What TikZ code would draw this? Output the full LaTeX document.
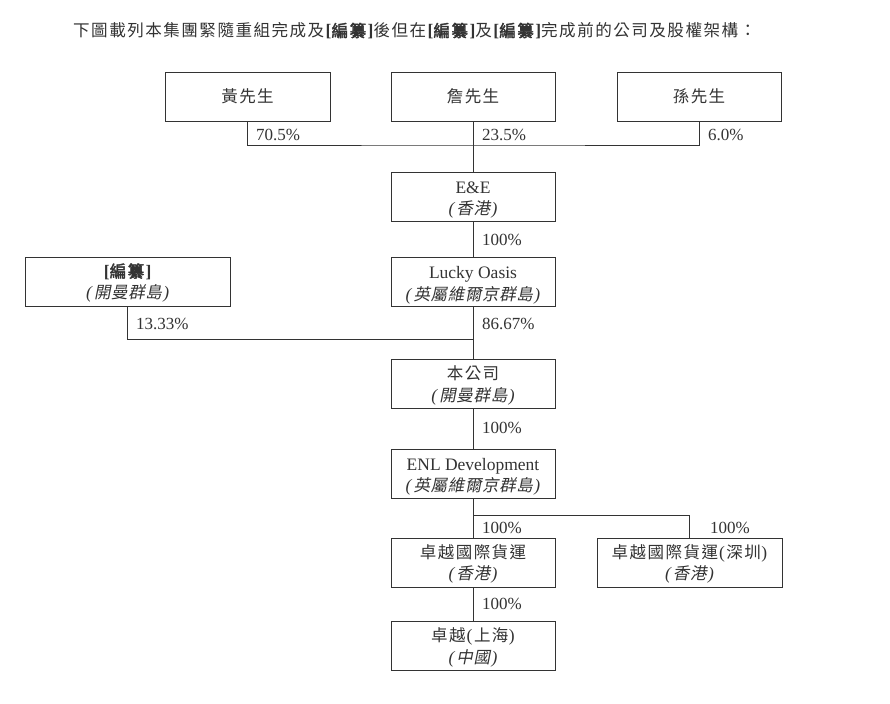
\documentclass[tikz,border=0pt]{standalone}
\usepackage{fontspec}
\setmainfont{Liberation Serif}
\newfontfamily\cjk{Noto Sans CJK TC}[Scale=0.943,LetterSpace=9,BoldFont=*,BoldFeatures={FakeBold=2.5}]
\newfontfamily\cjki{Noto Sans CJK TC}[Scale=0.943,LetterSpace=4,FakeSlant=0.2]
\definecolor{ink}{HTML}{333333}
\newcommand{\zh}[1]{{\cjk #1}}
\newcommand{\zhi}[1]{{\itshape(}\kern2pt{\cjki #1}\kern1.5pt{\itshape)}}
\newcommand{\pz}[1]{\kern1pt(\kern1.5pt\zh{#1}\kern0.5pt)}
\newcommand{\bz}{\textbf{[}{\cjk\bfseries 編纂}\textbf{]}}
\newcommand{\lt}{\rule{0pt}{18.5pt}}
\newcommand{\ct}{\rule{0pt}{17pt}}
\begin{document}
\begin{tikzpicture}[x=1pt,y=-1pt,
  box/.style={draw=ink, line width=0.9pt, text=ink, minimum height=49pt, inner sep=0pt, align=center, font=\fontsize{17.5}{21.5}\selectfont},
  pct/.style={anchor=west, inner sep=0pt, text=ink, font=\fontsize{17}{20}\selectfont},
  conn/.style={draw=ink, line width=0.9pt}]
\useasboundingbox (0,0) rectangle (890,703);
\fill[white] (0,0) rectangle (890,703);

\node[anchor=west, inner sep=0pt, text=ink, font=\fontsize{17.55}{22}\selectfont] (title) at (73,31)
 {\zh{下圖載列本集團緊隨重組完成及}\bz\zh{後但在}\bz\zh{及}\bz\zh{完成前的公司及股權架構：}};

\node[box, minimum width=165pt] (huang) at (247.5,96.5) {\zh{黃先生}};
\node[box, minimum width=164pt] (zhan) at (473,96.5) {\zh{詹先生}};
\node[box, minimum width=164pt] (sun) at (699,96.5) {\zh{孫先生}};

\node[box, minimum width=164pt] (ee) at (473,196.5) {\lt E\&E\\\zhi{香港}};
\node[box, minimum width=205pt] (bian) at (127.75,281.5) {\ct\bz\\\zhi{開曼群島}};
\node[box, minimum width=164pt] (lucky) at (473,282) {\lt Lucky Oasis\\\zhi{英屬維爾京群島}};
\node[box, minimum width=164pt] (company) at (473,384) {\ct\zh{本公司}\\\zhi{開曼群島}};
\node[box, minimum width=164pt] (enl) at (473,473.5) {\lt ENL Development\\\zhi{英屬維爾京群島}};
\node[box, minimum width=164pt] (zy) at (473,562.5) {\ct\zh{卓越國際貨運}\\\zhi{香港}};
\node[box, minimum width=185pt] (zysz) at (689.5,562.5) {\ct\zh{卓越國際貨運}\pz{深圳}\\\zhi{香港}};
\node[box, minimum width=164pt] (zysh) at (473,646) {\ct\zh{卓越}\pz{上海}\\\zhi{中國}};

\coordinate (j1) at (473,145);
\coordinate (j2) at (473,339);
\coordinate (j3) at (473,515);

\draw[conn] (huang.south) |- (j1) -| (sun.south);
\draw[conn] (zhan.south) -- (ee.north);
\draw[conn] (ee.south) -- (lucky.north);
\draw[conn] (bian.south) |- (j2);
\draw[conn] (lucky.south) -- (company.north);
\draw[conn] (company.south) -- (enl.north);
\draw[conn] (enl.south) -- (zy.north);
\draw[conn] (j3) -| (zysz.north);
\draw[conn] (zy.south) -- (zysh.north);

\node[pct] (p1) at (256,135) {70.5\%};
\node[pct] (p2) at (482,135) {23.5\%};
\node[pct] (p3) at (708,135) {6.0\%};
\node[pct] (p4) at (482,239.5) {100\%};
\node[pct] (p5) at (136,324) {13.33\%};
\node[pct] (p6) at (482,324) {86.67\%};
\node[pct] (p7) at (482,428) {100\%};
\node[pct] (p8) at (482,528) {100\%};
\node[pct] (p9) at (710,528) {100\%};
\node[pct] (p10) at (482,604) {100\%};
\end{tikzpicture}
\end{document}
